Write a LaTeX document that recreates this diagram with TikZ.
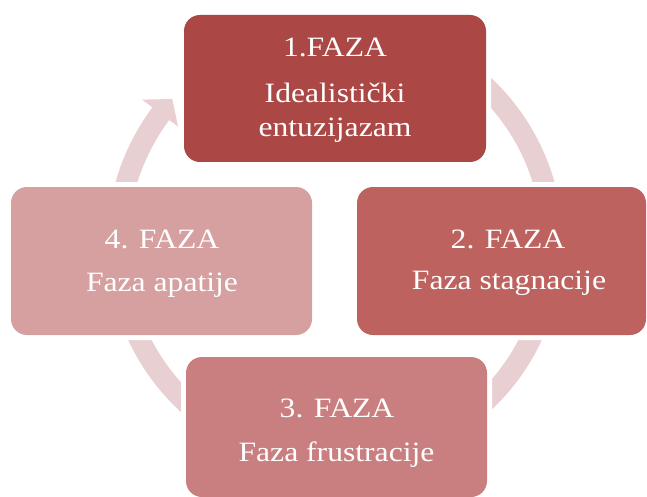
\documentclass[tikz,border=0pt]{standalone}
\usepackage{fontspec}
\setmainfont{Liberation Serif}[FakeStretch=1.13]
\definecolor{cA}{HTML}{AB4745}
\definecolor{cB}{HTML}{BD625F}
\definecolor{cC}{HTML}{C97F7F}
\definecolor{cD}{HTML}{D7A0A0}
\definecolor{ringc}{HTML}{E8D0D2}
\begin{document}
\begin{tikzpicture}[x=1pt,y=-1pt,
  box/.style={rectangle, rounded corners=16pt, inner sep=0pt, outer sep=0pt,
    preaction={draw=white, line width=10pt}},
  txt/.style={anchor=base, inner sep=0pt, text=white, font=\fontsize{28}{34}\selectfont},
  ringline/.style={draw=ringc, line width=21pt}]
\useasboundingbox (0,0) rectangle (647,497);
\fill[white] (0,0) rectangle (647,497);
\coordinate (c) at (335,244);
% cycle ring
\draw[ringline] ([shift={(230:217.5)}]c) arc[start angle=230, end angle=577.3, radius=217.5];
\fill[ringc] ([shift={(216.8:196)}]c) -- ([shift={(221.7:218)}]c) -- ([shift={(216.8:241)}]c) -- cycle;
% boxes
\node[box, fill=cA, minimum width=302pt, minimum height=147pt] (b1) at (335,88.5) {};
\node[box, fill=cB, minimum width=289pt, minimum height=148pt] (b2) at (501.5,261) {};
\node[box, fill=cC, minimum width=301pt, minimum height=140pt] (b3) at (336.5,427) {};
\node[box, fill=cD, minimum width=301pt, minimum height=148pt] (b4) at (161.5,261) {};
% texts
\node[txt] (t1a) at (335,57) {1.FAZA};
\node[txt] (t1b) at (335,103) {Idealistički};
\node[txt] (t1c) at (335,137) {entuzijazam};
\node[txt] (t2a) at (508,248) {2. FAZA};
\node[txt] (t2b) at (509,289) {Faza stagnacije};
\node[txt] (t3a) at (337,417) {3. FAZA};
\node[txt] (t3b) at (336.5,461) {Faza frustracije};
\node[txt] (t4a) at (162,248) {4. FAZA};
\node[txt] (t4b) at (162,291) {Faza apatije};
\end{tikzpicture}
\end{document}
